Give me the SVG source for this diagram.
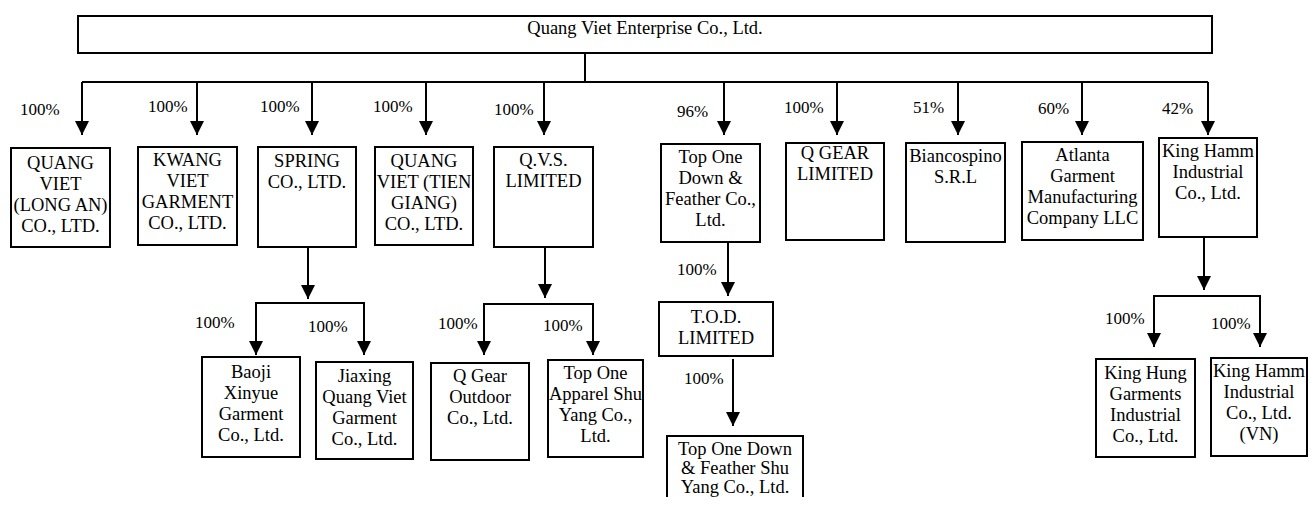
<svg xmlns="http://www.w3.org/2000/svg" width="1311" height="506" viewBox="0 0 1311 506">
<style>
.box{fill:#fff;stroke:#000;stroke-width:2}
.t{font-family:"Liberation Serif","Times New Roman",serif;font-size:18.5px;fill:#000;text-anchor:middle}
.p{font-family:"Liberation Serif","Times New Roman",serif;font-size:17px;fill:#000}
.ln{fill:none;stroke:#000;stroke-width:2}
.ar{fill:none;stroke:#000;stroke-width:2;marker-end:url(#ah)}
</style>
<defs>
<marker id="ah" markerUnits="userSpaceOnUse" markerWidth="14" markerHeight="14" refX="14" refY="7" orient="auto">
<path d="M0,0 L14,7 L0,14 z" fill="#000"/>
</marker>
</defs>
<rect width="1311" height="506" fill="#fff"/>

<g id="connectors">
<path class="ln" d="M585,53 V82 M82,82 H1208"/>
<path class="ar" d="M82,82 V135"/>
<path class="ar" d="M197,82 V135"/>
<path class="ar" d="M312,82 V135"/>
<path class="ar" d="M426,82 V135"/>
<path class="ar" d="M544,82 V135"/>
<path class="ar" d="M724,82 V135"/>
<path class="ar" d="M837,82 V135"/>
<path class="ar" d="M958,82 V135"/>
<path class="ar" d="M1082,82 V135"/>
<path class="ar" d="M1208,82 V135"/>
<!-- Spring -->
<path class="ar" d="M308,247 V299"/>
<path class="ln" d="M256,303 H364"/>
<path class="ar" d="M256,302 V355"/>
<path class="ar" d="M364,302 V355"/>
<!-- QVS -->
<path class="ar" d="M545,247 V298"/>
<path class="ln" d="M484,304 H593"/>
<path class="ar" d="M484,303 V355"/>
<path class="ar" d="M593,303 V355"/>
<!-- Top One -->
<path class="ar" d="M728,242 V296"/>
<path class="ar" d="M733,359 V426"/>
<!-- King Hamm -->
<path class="ar" d="M1204,237 V290"/>
<path class="ln" d="M1154,296 H1260"/>
<path class="ar" d="M1154,295 V347"/>
<path class="ar" d="M1260,295 V347"/>
<!-- labels -->
<text class="p" x="20" y="115">100%</text>
<text class="p" x="148" y="112">100%</text>
<text class="p" x="260" y="112">100%</text>
<text class="p" x="373" y="112">100%</text>
<text class="p" x="494" y="115">100%</text>
<text class="p" x="677" y="117">96%</text>
<text class="p" x="784" y="113">100%</text>
<text class="p" x="913" y="113">51%</text>
<text class="p" x="1038" y="114">60%</text>
<text class="p" x="1162" y="114">42%</text>
<text class="p" x="195" y="328">100%</text>
<text class="p" x="308" y="332">100%</text>
<text class="p" x="438" y="329">100%</text>
<text class="p" x="543" y="331">100%</text>
<text class="p" x="677" y="275">100%</text>
<text class="p" x="684" y="384">100%</text>
<text class="p" x="1105" y="324">100%</text>
<text class="p" x="1211" y="329">100%</text>
</g>

<g id="n-parent">
<rect class="box" x="78" y="16" width="1134" height="37"/>
<text class="t" x="645" y="33.5">Quang Viet Enterprise Co., Ltd.</text>
</g>

<g id="n-longan">
<rect class="box" x="11" y="148" width="99" height="99"/>
<text class="t" x="60.5" y="169">QUANG</text>
<text class="t" x="60.5" y="190">VIET</text>
<text class="t" x="60.5" y="211">(LONG AN)</text>
<text class="t" x="60.5" y="232">CO., LTD.</text>
</g>

<g id="n-kwang">
<rect class="box" x="138" y="147" width="99" height="98"/>
<text class="t" x="187.5" y="166">KWANG</text>
<text class="t" x="187.5" y="187">VIET</text>
<text class="t" x="187.5" y="208">GARMENT</text>
<text class="t" x="187.5" y="229">CO., LTD.</text>
</g>

<g id="n-spring">
<rect class="box" x="258" y="147" width="98" height="100"/>
<text class="t" x="307" y="167">SPRING</text>
<text class="t" x="307" y="188">CO., LTD.</text>
</g>

<g id="n-tiengiang">
<rect class="box" x="375" y="147" width="98" height="98"/>
<text class="t" x="424" y="167">QUANG</text>
<text class="t" x="424" y="188">VIET (TIEN</text>
<text class="t" x="424" y="209">GIANG)</text>
<text class="t" x="424" y="230">CO., LTD.</text>
</g>

<g id="n-qvs">
<rect class="box" x="494" y="147" width="99" height="100"/>
<text class="t" x="543.5" y="166">Q.V.S.</text>
<text class="t" x="543.5" y="187">LIMITED</text>
</g>

<g id="n-topone">
<rect class="box" x="661" y="144" width="99" height="98"/>
<text class="t" x="710.5" y="163">Top One</text>
<text class="t" x="710.5" y="184">Down &amp;</text>
<text class="t" x="710.5" y="205">Feather Co.,</text>
<text class="t" x="710.5" y="226">Ltd.</text>
</g>

<g id="n-qgear">
<rect class="box" x="786" y="143" width="98" height="97"/>
<text class="t" x="835" y="159">Q GEAR</text>
<text class="t" x="835" y="180">LIMITED</text>
</g>

<g id="n-bianco">
<rect class="box" x="906" y="143" width="99" height="99"/>
<text class="t" x="955.5" y="162">Biancospino</text>
<text class="t" x="955.5" y="183">S.R.L</text>
</g>

<g id="n-atlanta">
<rect class="box" x="1022" y="142" width="121" height="98"/>
<text class="t" x="1082.5" y="161">Atlanta</text>
<text class="t" x="1082.5" y="182">Garment</text>
<text class="t" x="1082.5" y="203">Manufacturing</text>
<text class="t" x="1082.5" y="224">Company LLC</text>
</g>

<g id="n-kinghamm">
<rect class="box" x="1159" y="138" width="98" height="99"/>
<text class="t" x="1208" y="157">King Hamm</text>
<text class="t" x="1208" y="178">Industrial</text>
<text class="t" x="1208" y="199">Co., Ltd.</text>
</g>

<g id="n-baoji">
<rect class="box" x="202" y="357" width="98" height="100"/>
<text class="t" x="251" y="378">Baoji</text>
<text class="t" x="251" y="399">Xinyue</text>
<text class="t" x="251" y="420">Garment</text>
<text class="t" x="251" y="441">Co., Ltd.</text>
</g>

<g id="n-jiaxing">
<rect class="box" x="316" y="362" width="97" height="97"/>
<text class="t" x="364.5" y="382">Jiaxing</text>
<text class="t" x="364.5" y="403">Quang Viet</text>
<text class="t" x="364.5" y="424">Garment</text>
<text class="t" x="364.5" y="445">Co., Ltd.</text>
</g>

<g id="n-qgearoutdoor">
<rect class="box" x="431" y="363" width="98" height="97"/>
<text class="t" x="480" y="382">Q Gear</text>
<text class="t" x="480" y="403">Outdoor</text>
<text class="t" x="480" y="424">Co., Ltd.</text>
</g>

<g id="n-apparel">
<rect class="box" x="548" y="360" width="95" height="97"/>
<text class="t" x="595.5" y="379">Top One</text>
<text class="t" x="595.5" y="400">Apparel Shu</text>
<text class="t" x="595.5" y="421">Yang Co.,</text>
<text class="t" x="595.5" y="442">Ltd.</text>
</g>

<g id="n-tod">
<rect class="box" x="659" y="302" width="114" height="54"/>
<text class="t" x="716" y="323">T.O.D.</text>
<text class="t" x="716" y="344">LIMITED</text>
</g>

<g id="n-downshuyang">
<path class="box" d="M667,497 V436 H803 V497"/>
<text class="t" x="735" y="455">Top One Down</text>
<text class="t" x="735" y="474">&amp; Feather Shu</text>
<text class="t" x="735" y="493">Yang Co., Ltd.</text>
</g>

<g id="n-kinghung">
<rect class="box" x="1096" y="359" width="99" height="98"/>
<text class="t" x="1145.5" y="379">King Hung</text>
<text class="t" x="1145.5" y="400">Garments</text>
<text class="t" x="1145.5" y="421">Industrial</text>
<text class="t" x="1145.5" y="442">Co., Ltd.</text>
</g>

<g id="n-kinghammvn">
<rect class="box" x="1211" y="358" width="96" height="98"/>
<text class="t" x="1259" y="377">King Hamm</text>
<text class="t" x="1259" y="398">Industrial</text>
<text class="t" x="1259" y="419">Co., Ltd.</text>
<text class="t" x="1259" y="440">(VN)</text>
</g>
</svg>
